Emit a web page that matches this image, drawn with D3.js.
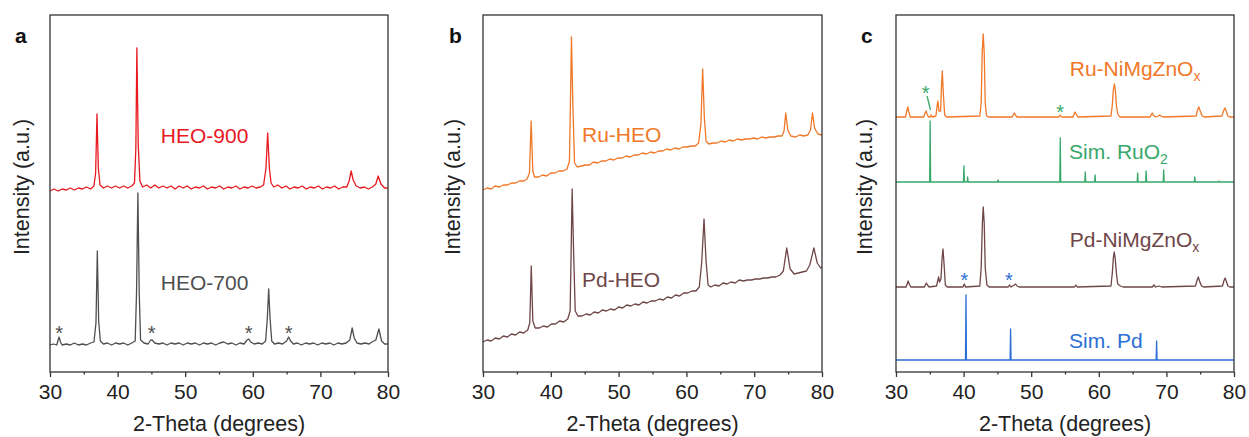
<!DOCTYPE html>
<html>
<head>
<meta charset="utf-8">
<script src="https://cdn.jsdelivr.net/npm/d3@7"></script>
<style>
  body { margin: 0; background: #fff; }
  text { font-family: "Liberation Sans", Arial, sans-serif; }
</style>
</head>
<body>
<div id="chart"></div>
<script>
// 2-theta readings (deg) and offset intensity (a.u.)
var heo900 = [[30,182],[30.6,184],[31.2,182],[31.8,184],[32.4,183],[33,185],[33.6,183],[34.2,185],[34.8,184],[35.4,186],[36,184],[36.5,187],[36.75,200],[36.95,259],[37.15,205],[37.4,188],[37.9,185],[38.5,187],[39.1,185],[39.7,187],[40.3,185],[40.9,187],[41.5,185],[42.1,187],[42.5,190],[42.7,225],[42.85,325],[43.05,228],[43.3,192],[43.7,186],[44.3,188],[44.9,185],[45.5,188],[46.1,185],[46.7,187],[47.3,185],[47.9,187],[48.5,184],[49.1,187],[49.7,185],[50.3,187],[50.9,184],[51.5,186],[52.1,185],[52.7,187],[53.3,184],[53.9,186],[54.5,185],[55.1,187],[55.7,184],[56.3,186],[56.9,185],[57.5,187],[58.1,184],[58.7,186],[59.3,185],[59.9,187],[60.5,185],[61.1,186],[61.6,188],[61.95,205],[62.2,240],[62.45,205],[62.7,190],[63.1,186],[63.7,188],[64.3,185],[64.9,187],[65.5,184],[66.1,186],[66.7,185],[67.3,187],[67.9,184],[68.5,186],[69.1,185],[69.7,187],[70.3,184],[70.9,186],[71.5,185],[72.1,187],[72.7,184],[73.3,186],[73.9,186],[74.25,192],[74.55,202],[74.85,193],[75.3,187],[75.9,185],[76.5,186],[77.1,184],[77.7,186],[78.2,189],[78.55,197],[78.95,189],[79.5,185],[80,185]];
var heo700 = [[30,28],[30.5,29],[31,28],[31.2,33],[31.35,36],[31.55,31],[31.8,28],[32.4,29],[33,28],[33.6,30],[34.2,28],[34.8,29],[35.4,28],[36,30],[36.5,31],[36.8,50],[37.0,122],[37.2,52],[37.45,32],[37.9,29],[38.5,30],[39.1,28],[39.7,30],[40.3,29],[40.9,30],[41.5,28],[42.1,30],[42.6,32],[42.8,80],[43.0,180],[43.2,80],[43.4,33],[43.9,30],[44.5,29],[44.9,33],[45.1,33],[45.5,30],[46.1,29],[46.7,30],[47.3,28],[47.9,30],[48.5,29],[49.1,30],[49.7,28],[50.3,30],[50.9,29],[51.5,30],[52.1,28],[52.7,30],[53.3,29],[53.9,30],[54.5,28],[55.1,30],[55.7,31],[56.3,29],[56.9,30],[57.5,28],[58.1,30],[58.7,29],[59.15,33],[59.4,34],[59.7,31],[60.2,29],[60.8,30],[61.4,29],[61.9,32],[62.15,55],[62.35,84],[62.55,55],[62.8,32],[63.2,29],[63.8,30],[64.4,29],[65,32],[65.3,36],[65.6,32],[66,29],[66.6,30],[67.2,28],[67.8,30],[68.4,29],[69,30],[69.6,28],[70.2,30],[70.8,29],[71.4,30],[72,28],[72.6,30],[73.2,29],[73.8,30],[74.35,33],[74.7,45],[75.0,35],[75.4,30],[76,29],[76.6,30],[77.2,29],[77.6,31],[78.2,33],[78.65,44],[79.05,32],[79.5,29],[80,29]];
var ruHeo = [[30,183],[30.6,185],[31.2,184],[31.8,187],[32.4,186],[33,188],[33.6,188],[34.2,190],[34.8,190],[35.4,192],[36,192],[36.5,194],[36.85,200],[37.1,252],[37.35,202],[37.6,196],[38.2,196],[38.8,198],[39.4,197],[40,200],[40.6,200],[41.2,202],[41.8,202],[42.4,204],[42.75,212],[42.92,280],[43.05,336],[43.25,270],[43.5,210],[43.9,206],[44.5,207],[45.1,208],[45.7,208],[46.3,211],[46.9,210],[47.5,212],[48.1,212],[48.7,214],[49.3,213],[49.9,215],[50.5,215],[51.1,217],[51.7,216],[52.3,218],[52.9,218],[53.5,220],[54.1,219],[54.7,221],[55.3,220],[55.9,222],[56.5,222],[57.1,224],[57.7,223],[58.3,225],[58.9,224],[59.5,226],[60.1,226],[60.7,227],[61.3,227],[61.8,230],[62.15,250],[62.4,304],[62.65,255],[62.9,232],[63.3,229],[63.9,230],[64.5,230],[65.1,232],[65.7,231],[66.3,233],[66.9,232],[67.5,234],[68.1,233],[68.7,234],[69.3,234],[69.9,235],[70.5,234],[71.1,236],[71.7,235],[72.3,236],[72.9,236],[73.5,237],[74.1,237],[74.4,242],[74.65,260],[74.95,243],[75.4,237],[76.1,236],[76.7,238],[77.3,237],[77.9,238],[78.3,243],[78.6,260],[78.9,245],[79.4,239],[80,238]];
var pdHeo = [[30,31],[30.6,33],[31.2,32],[31.8,35],[32.4,34],[33,37],[33.6,36],[34.2,39],[34.8,38],[35.4,41],[36,40],[36.6,43],[36.9,50],[37.12,107],[37.35,52],[37.7,45],[38.3,45],[38.9,47],[39.5,46],[40.1,49],[40.7,49],[41.3,52],[41.9,51],[42.5,54],[42.85,62],[43.02,130],[43.15,184],[43.35,125],[43.6,62],[44,57],[44.6,57],[45.2,59],[45.8,58],[46.4,61],[47,60],[47.6,63],[48.2,62],[48.8,64],[49.4,63],[50,66],[50.6,65],[51.2,68],[51.8,67],[52.4,69],[53,68],[53.6,71],[54.2,70],[54.8,72],[55.4,72],[56,74],[56.6,73],[57.2,76],[57.8,75],[58.4,78],[59,77],[59.6,80],[60.2,80],[60.8,82],[61.4,82],[61.9,86],[62.25,110],[62.6,154],[62.9,112],[63.2,88],[63.6,86],[64.2,88],[64.8,87],[65.4,90],[66,89],[66.6,91],[67.2,90],[67.8,93],[68.4,92],[69,93],[69.6,93],[70.2,94],[70.8,94],[71.4,95],[72,95],[72.6,96],[73.2,96],[73.8,98],[74.3,102],[74.8,125],[75.3,104],[75.9,99],[76.5,100],[77.1,101],[77.7,102],[78.2,108],[78.8,125],[79.3,110],[79.8,105],[80,106]];
var ruNmz = [[30,256],[31.4,256],[31.6,262],[31.75,266],[31.9,261],[32.1,256],[34.1,256],[34.3,260],[34.45,262],[34.6,259],[34.8,256],[35.05,256],[35.2,258],[35.35,256],[35.9,257],[36.1,268],[36.2,272],[36.35,262],[36.6,262],[36.72,285],[36.85,302],[37.0,280],[37.2,258],[37.5,256],[42.4,257],[42.6,270],[42.75,320],[42.9,339],[43.05,320],[43.2,270],[43.4,257],[43.7,256],[47.2,256],[47.4,259],[47.5,260],[47.65,258],[47.9,256],[54.1,256],[54.3,258],[54.5,256],[56.2,256],[56.4,260],[56.5,261],[56.65,259],[56.9,256],[61.8,257],[62.0,268],[62.15,283],[62.3,289],[62.45,283],[62.6,268],[62.8,259],[63.1,256],[67.6,256],[67.8,259],[67.9,260],[68.05,258],[68.4,256],[68.8,257],[69,258],[69.2,257],[69.5,256],[74.4,257],[74.6,263],[74.8,266],[75.0,262],[75.3,257],[75.6,256],[78.2,257],[78.45,262],[78.65,265],[78.85,262],[79.1,257],[79.4,256],[80,256]];
var pdNmz = [[30,86],[31.5,86],[31.7,90],[31.8,92],[31.95,89],[32.2,86],[34.2,86],[34.4,89],[34.5,90],[34.65,88],[34.9,86],[36.0,87],[36.2,93],[36.3,96],[36.45,91],[36.65,94],[36.82,115],[36.95,124],[37.1,110],[37.3,88],[37.6,86],[39.9,86],[40.1,89],[40.3,86],[42.4,87],[42.6,105],[42.78,150],[42.9,166],[43.05,150],[43.2,105],[43.45,88],[43.8,86],[46.6,86],[46.8,88],[47.0,86],[47.5,88],[47.7,89],[47.9,87],[48.2,86],[56.4,86],[56.6,88],[56.8,86],[61.8,87],[62.0,100],[62.15,115],[62.28,121],[62.42,115],[62.6,100],[62.8,89],[63.2,87],[63.6,86],[67.9,86],[68.15,88],[68.4,86],[68.9,87],[69.3,86],[74.3,87],[74.55,93],[74.72,96],[74.9,92],[75.2,87],[75.5,86],[78.3,87],[78.5,92],[78.68,95],[78.85,92],[79.1,87],[79.4,86],[80,86]];

// simulated reflections: position, top
var ruo2Base = 191;
var ruo2Sticks = [[35.05,252],[40.05,207],[40.6,196],[45.1,193],[54.3,235],[58.0,201],[59.45,198],[65.75,200],[67.0,202],[69.6,203],[74.2,196],[77.8,192]];
var pdBase = 13;
var pdSticks = [[40.35,78],[46.95,44],[68.55,32]];

var asterisksA = [[31.35,44],[45.05,44],[59.4,44],[65.3,44]];
var asterisksGreen = [[34.4,284],[54.3,265]];
var asterisksBlue = [[40.1,97],[46.7,97]];

var xTicks = [30, 40, 50, 60, 70, 80];
var xMinor = [35, 45, 55, 65, 75];

var colors = {
  red: "#e8191f", grey: "#4f4f4f", orange: "#f07828", brown: "#6f4648",
  green: "#37a86a", blue: "#2b6fd6"
};

function sticks(list, base) {
  var pts = [[30, base]];
  list.forEach(function (s) {
    pts.push([s[0] - 0.07, base], [s[0], s[1]], [s[0] + 0.07, base]);
  });
  pts.push([80, base]);
  return pts;
}

var W = 1249, H = 437;
var svg = d3.select("#chart").append("svg")
  .attr("width", W).attr("height", H);

var plotTop = 15, plotBottom = 372;

function panel(cfg) {
  var x = d3.scaleLinear().domain([30, 80]).range([cfg.x0, cfg.x1]);
  var y = d3.scaleLinear().domain([0, 358]).range([373, 15]);
  var g = svg.append("g");
  var line = d3.line().x(function (d) { return x(d[0]); }).y(function (d) { return y(d[1]); });

  cfg.series.forEach(function (s) {
    g.append("path").attr("d", line(s.data))
      .attr("fill", "none").attr("stroke", s.color)
      .attr("stroke-width", 1.3).attr("stroke-linejoin", "round");
  });

  // frame
  g.append("rect").attr("x", cfg.x0).attr("y", plotTop)
    .attr("width", cfg.x1 - cfg.x0).attr("height", plotBottom - plotTop)
    .attr("fill", "none").attr("stroke", "#333").attr("stroke-width", 1.3);

  var ax = g.append("g").attr("transform", "translate(0," + plotBottom + ")")
    .call(d3.axisBottom(x).tickValues(xTicks).tickSize(5).tickPadding(7).tickFormat(d3.format("d")));
  ax.select(".domain").remove();
  ax.selectAll("line").attr("stroke", "#333").attr("stroke-width", 1.3);
  ax.selectAll("text").attr("font-size", 21).attr("fill", "#222")
    .attr("font-family", "Liberation Sans, Arial, sans-serif");
  var mn = g.append("g").attr("transform", "translate(0," + plotBottom + ")")
    .call(d3.axisBottom(x).tickValues(xMinor).tickSize(2.5).tickFormat(""));
  mn.select(".domain").remove();
  mn.selectAll("line").attr("stroke", "#333").attr("stroke-width", 1.3);

  g.append("text").attr("x", (cfg.x0 + cfg.x1) / 2).attr("y", 431)
    .attr("text-anchor", "middle").attr("font-size", 21.5).attr("fill", "#222")
    .text("2-Theta (degrees)");
  g.append("text").attr("transform", "translate(" + cfg.ytx + ",187) rotate(-90)")
    .attr("text-anchor", "middle").attr("font-size", 21.5).attr("fill", "#222")
    .text("Intensity (a.u.)");
  g.append("text").attr("x", cfg.lx).attr("y", 43)
    .attr("font-size", 21).attr("font-weight", "bold").attr("fill", "#111")
    .text(cfg.letter);

  cfg.labels.forEach(function (l) {
    var t = g.append("text").attr("x", x(l.x)).attr("y", y(l.y))
      .attr("font-size", 21).attr("fill", l.color).text(l.text);
    if (l.sub) {
      t.append("tspan").attr("font-size", 14).attr("dy", 5).text(l.sub);
    }
  });

  (cfg.stars || []).forEach(function (st) {
    g.selectAll(null).data(st.data).enter().append("text")
      .attr("x", function (d) { return x(d[0]); })
      .attr("y", function (d) { return y(d[1]) + 11; })
      .attr("text-anchor", "middle").attr("font-size", 20)
      .attr("fill", st.color).text("*");
  });
  return { g: g, x: x, y: y };
}

panel({
  x0: 50, x1: 388, ytx: 29, lx: 15, letter: "a",
  series: [{ data: heo900, color: colors.red }, { data: heo700, color: colors.grey }],
  labels: [
    { x: 46.4, y: 230, text: "HEO-900", color: colors.red },
    { x: 46.4, y: 83, text: "HEO-700", color: colors.grey }
  ],
  stars: [{ data: asterisksA, color: colors.grey }]
});

panel({
  x0: 483, x1: 822, ytx: 460, lx: 449, letter: "b",
  series: [{ data: ruHeo, color: colors.orange }, { data: pdHeo, color: colors.brown }],
  labels: [
    { x: 44.6, y: 231, text: "Ru-HEO", color: colors.orange },
    { x: 44.6, y: 86, text: "Pd-HEO", color: colors.brown }
  ]
});

var pc = panel({
  x0: 896, x1: 1234, ytx: 872, lx: 861, letter: "c",
  series: [
    { data: ruNmz, color: colors.orange },
    { data: sticks(ruo2Sticks, ruo2Base), color: colors.green },
    { data: pdNmz, color: colors.brown },
    { data: sticks(pdSticks, pdBase), color: colors.blue }
  ],
  labels: [
    { x: 55.7, y: 297, text: "Ru-NiMgZnO", sub: "x", color: colors.orange },
    { x: 55.6, y: 214, text: "Sim. RuO", sub: "2", color: colors.green },
    { x: 55.7, y: 126, text: "Pd-NiMgZnO", sub: "x", color: colors.brown },
    { x: 55.6, y: 25, text: "Sim. Pd", color: colors.blue }
  ],
  stars: [
    { data: asterisksGreen, color: colors.green },
    { data: asterisksBlue, color: colors.blue }
  ]
});

// leader from the green star to the small RuO2 reflection
pc.g.append("line")
  .attr("x1", pc.x(34.6)).attr("y1", pc.y(277))
  .attr("x2", pc.x(35.1)).attr("y2", pc.y(263))
  .attr("stroke", colors.green).attr("stroke-width", 1.3);
</script>
</body>
</html>
